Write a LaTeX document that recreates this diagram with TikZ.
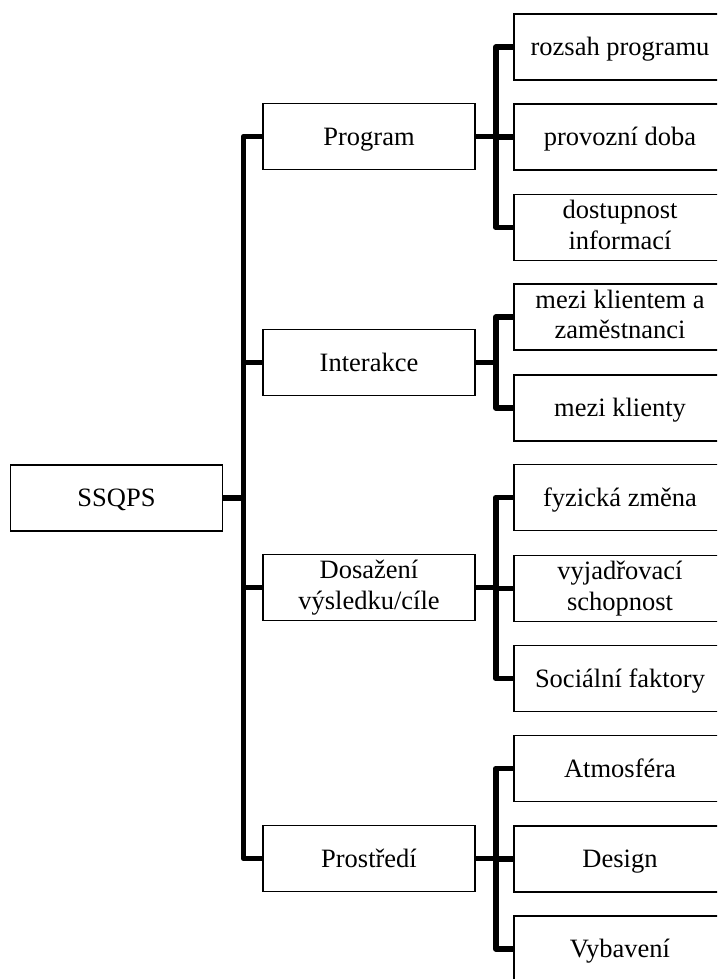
\documentclass[tikz,border=0pt]{standalone}
\usepackage{fontspec}
\setmainfont{Liberation Serif}
% struts giving each text line the ascent and descent of the font
\newcommand\topstrut{\rule{0pt}{23.6pt}}
\newcommand\botstrut{\rule[-5.7pt]{0pt}{5.7pt}}
\begin{document}
\begin{tikzpicture}[x=1pt,y=-1pt,
  box/.style={draw=black, line width=1.7pt, rectangle, minimum width=212pt,
    minimum height=66pt, inner sep=0pt, align=center,
    font=\fontsize{26.5}{30.5}\selectfont,
    execute at begin node=\topstrut, execute at end node=\botstrut},
  conn/.style={line width=5.5pt, line join=round, line cap=butt}]
\useasboundingbox (0,0) rectangle (717,979);
\clip (0,0) rectangle (717,979);

% root
\node[box] (root) at (116.5,498) {SSQPS};

% second level
\node[box] (prog) at (369,136.5) {Program};
\node[box] (inter) at (369,362.5) {Interakce};
\node[box] (dosaz) at (369,587.5) {Dosažení\\výsledku/cíle};
\node[box] (prost) at (369,858.5) {Prostředí};

% leaves
\node[box] (p1) at (620,47) {rozsah programu};
\node[box] (p2) at (620,137) {provozní doba};
\node[box] (p3) at (620,227.5) {dostupnost\\informací};
\node[box] (i1) at (620,317) {mezi klientem a\\zaměstnanci};
\node[box] (i2) at (620,408) {mezi klienty};
\node[box] (d1) at (620,497.5) {fyzická změna};
\node[box] (d2) at (620,588.5) {vyjadřovací\\schopnost};
\node[box] (d3) at (620,678.5) {Sociální faktory};
\node[box] (e1) at (620,768.5) {Atmosféra};
\node[box] (e2) at (620,859) {Design};
\node[box] (e3) at (620,949) {Vybavení};

% root to second level
\foreach \t in {prog,inter,dosaz,prost}
  \draw[conn] (root.east) -- ++(20,0) |- (\t.west);

% second level to leaves
\foreach \t in {p1,p2,p3}
  \draw[conn] (prog.east) -- ++(20,0) |- (\t.west);
\foreach \t in {i1,i2}
  \draw[conn] (inter.east) -- ++(20,0) |- (\t.west);
\foreach \t in {d1,d2,d3}
  \draw[conn] (dosaz.east) -- ++(20,0) |- (\t.west);
\foreach \t in {e1,e2,e3}
  \draw[conn] (prost.east) -- ++(20,0) |- (\t.west);
\end{tikzpicture}
\end{document}
